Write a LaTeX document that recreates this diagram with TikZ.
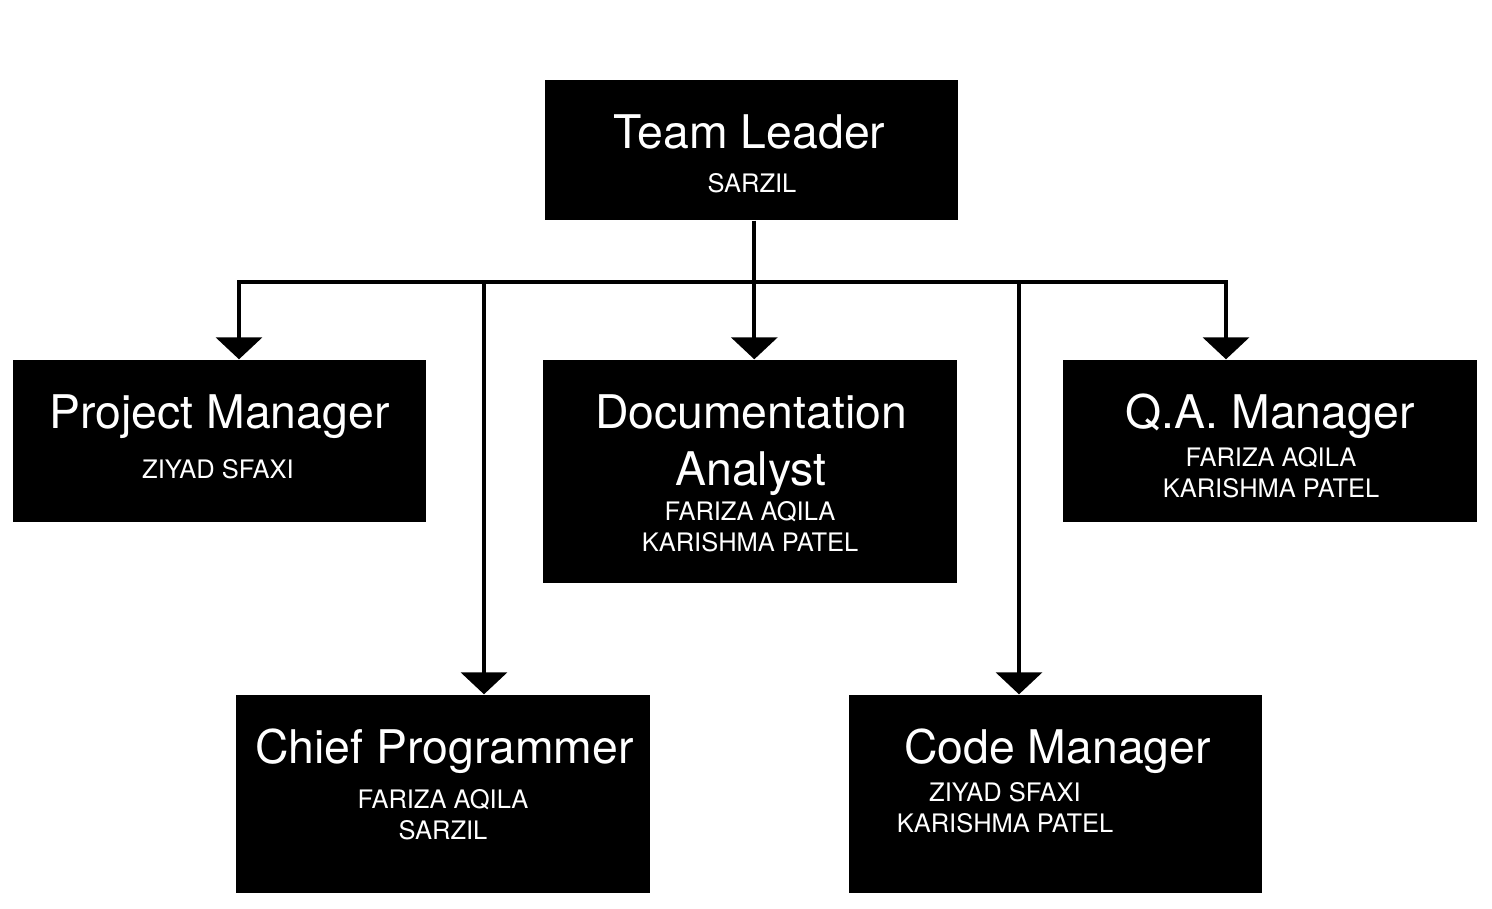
\documentclass[tikz,border=0pt]{standalone}
\usepackage{fontspec}
\setmainfont{TeX Gyre Heros}
\usetikzlibrary{arrows.meta}

\begin{document}
\begin{tikzpicture}
        \tikzset{
            caixa/.style={
                fill=black,
                inner sep=0pt,
                minimum width=4.13cm,
                minimum height=#1
            },
            titulo/.style={
                text=white,
                inner sep=0pt,
                anchor=base,
                align=center,
                font={\fontsize{13.2}{16.2}\selectfont}
            },
            nomes/.style={
                text=white,
                inner sep=0pt,
                anchor=base,
                align=center,
                font={\fontsize{7.25}{8.7}\selectfont}
            },
            seta/.style={line width=1.15pt, -{Triangle[width=0.46cm,length=0.22cm]}}
        }
        \useasboundingbox (0,0) rectangle (14.92,-9.08);

        %caixas
        \node[caixa=1.40cm] (tl) at (7.515,-1.50) {};
        \node[caixa=1.62cm] (pm) at (2.195,-4.41) {};
        \node[caixa=2.23cm, minimum width=4.14cm] (doc) at (7.50,-4.715) {};
        \node[caixa=1.62cm, minimum width=4.14cm] (qa) at (12.70,-4.41) {};
        \node[caixa=1.98cm, minimum width=4.14cm] (cp) at (4.43,-7.94) {};
        \node[caixa=1.98cm] (cm) at (10.555,-7.94) {};

        %textos (base = ultima linha)
        \node[titulo] (tlt) at (7.495,-1.48) {Team Leader};
        \node[nomes] (tln) at (7.52,-1.92) {SARZIL};

        \node[titulo] (pmt) at (2.195,-4.28) {Project Manager};
        \node[nomes] (pmn) at (2.18,-4.78) {ZIYAD SFAXI};

        \node[titulo] (doct) at (7.51,-4.85) {Documentation\\Analyst};
        \node[nomes] (docn) at (7.50,-5.51) {FARIZA AQILA\\KARISHMA PATEL};

        \node[titulo] (qat) at (12.70,-4.28) {Q.A. Manager};
        \node[nomes] (qan) at (12.71,-4.97) {FARIZA AQILA\\KARISHMA PATEL};

        \node[titulo] (cpt) at (4.445,-7.63) {Chief Programmer};
        \node[nomes] (cpn) at (4.43,-8.39) {FARIZA AQILA\\SARZIL};

        \node[titulo] (cmt) at (10.575,-7.63) {Code Manager};
        \node[nomes] (cmn) at (10.05,-8.32) {ZIYAD SFAXI\\KARISHMA PATEL};

        %ligacoes
        \coordinate (j) at (7.543,-2.823);
        \coordinate (bpm) at (2.39,-2.823);
        \coordinate (bcp) at (4.84,-2.823);
        \coordinate (bcm) at (10.19,-2.823);
        \coordinate (bqa) at (12.26,-2.823);

        \draw[seta] (tl.south -| j) -- (j |- doc.north);
        \draw[seta] (j) -| (bpm |- pm.north);
        \draw[seta] (j) -| (bqa |- qa.north);
        \draw[seta] (bcp) -- (bcp |- cp.north);
        \draw[seta] (bcm) -- (bcm |- cm.north);

\end{tikzpicture}
\end{document}
